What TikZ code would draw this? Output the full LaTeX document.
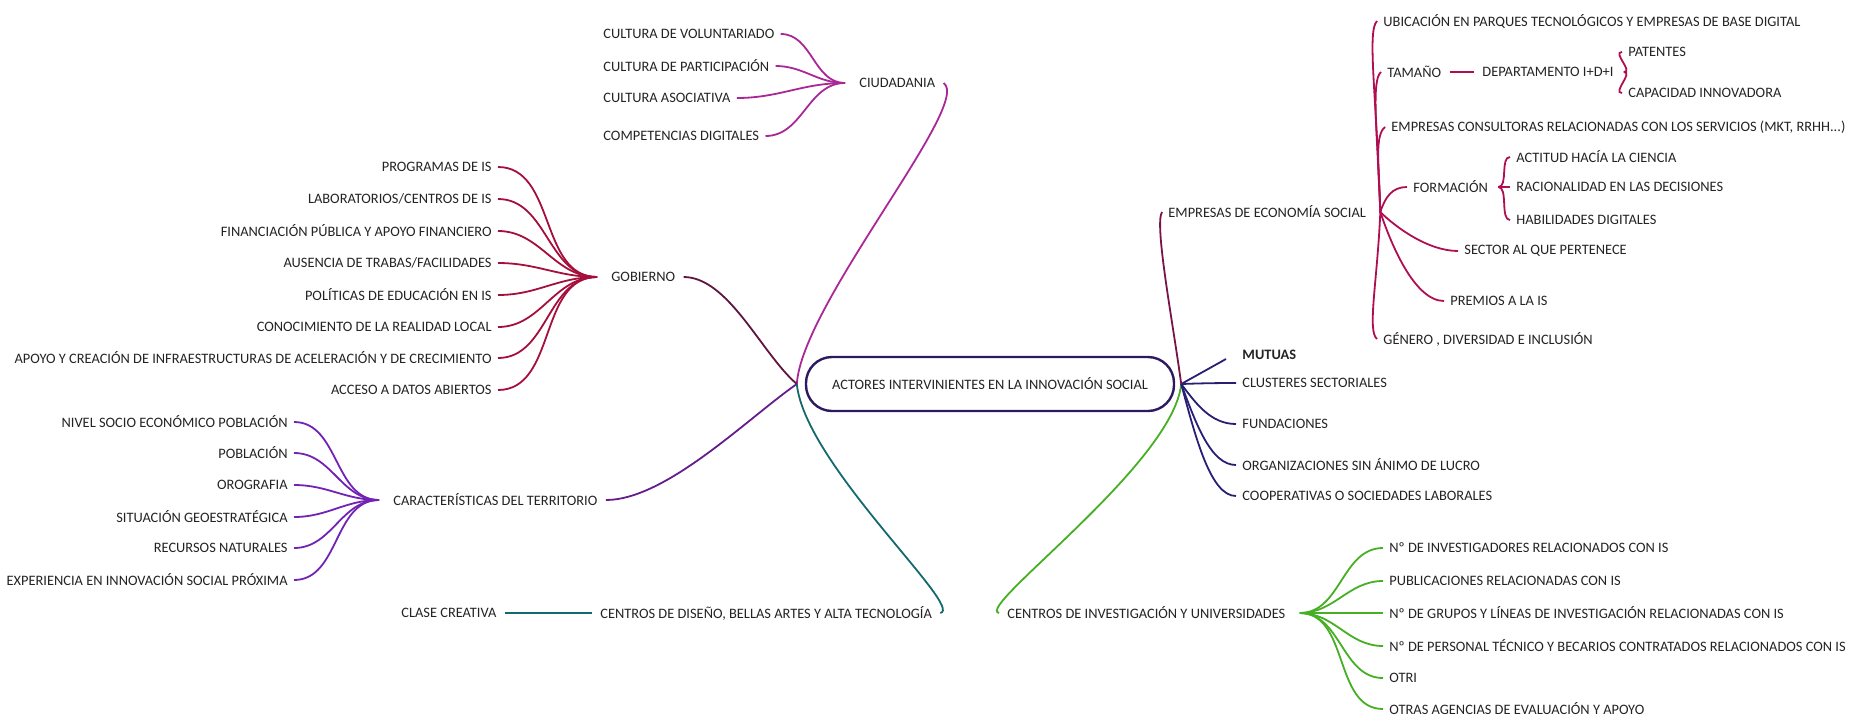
\documentclass[tikz,border=0pt]{standalone}
\usepackage{fontspec}
\setmainfont{Carlito}
\usetikzlibrary{positioning}

\definecolor{textgray}{RGB}{35,35,35}
\definecolor{boxblue}{RGB}{45,25,95}
\definecolor{ciudcol}{RGB}{170,40,150}
\definecolor{gobcol}{RGB}{165,15,60}
\definecolor{gobmain}{RGB}{95,20,65}
\definecolor{tercol}{RGB}{115,35,180}
\definecolor{termain}{RGB}{100,30,140}
\definecolor{tealcol}{RGB}{20,105,110}
\definecolor{greencol}{RGB}{70,175,35}
\definecolor{empcol}{RGB}{175,15,80}
\definecolor{empmain}{RGB}{120,20,70}
\definecolor{navycol}{RGB}{40,30,115}

\tikzset{
	item/.style = {inner sep = 1pt, text = textgray, font = \fontsize{7.2}{8}\selectfont},
	itembold/.style = {item, font = \fontsize{7.2}{8}\selectfont\bfseries},
	branch/.style = {line width = 0.9pt},
	mainbox/.style = {item, draw = boxblue, line width = 1.2pt, rounded corners = 13pt, minimum width = 184pt, minimum height = 27pt}
}

\begin{document}
\begin{tikzpicture}[x = 0.5pt, y = -0.5pt]

	\useasboundingbox (0, 0) rectangle (1867, 718);

	% Central node

	\node [mainbox] (actores) at (990, 384) {ACTORES INTERVINIENTES EN LA INNOVACIÓN SOCIAL};
	\coordinate (hubL) at ([xshift = -4pt] actores.west);
	\coordinate (hubR) at ([xshift = 3pt] actores.east);

	% Ciudadania

	\node [item, anchor = west] (ciudadania) at (857, 83) {CIUDADANIA};
	\coordinate (hubC) at ([xshift = -6pt] ciudadania.west);

	\foreach \n / \y / \t in {voluntariado/34/CULTURA DE VOLUNTARIADO, participacion/66/CULTURA DE PARTICIPACIÓN, asociativa/98/CULTURA ASOCIATIVA, competencias/136/COMPETENCIAS DIGITALES}
	{
		\node [item, anchor = west] (\n) at (601, \y) {\t};
		\draw [branch, ciudcol] ([xshift = 2pt] \n.east) to [out = 0, in = 180] (hubC);
	}

	\draw [branch, ciudcol] ([xshift = 3pt] ciudadania.east) .. controls +(30, 20) and +(5, -80) .. (hubL);

	% Gobierno

	\node [item, anchor = west] (gobierno) at (609, 277) {GOBIERNO};
	\coordinate (hubG) at ([xshift = -6pt] gobierno.west);

	\foreach \n / \y / \t in {programas/167/{PROGRAMAS DE IS}, laboratorios/199/{LABORATORIOS/CENTROS DE IS}, financiacion/231/{FINANCIACIÓN PÚBLICA Y APOYO FINANCIERO}, ausencia/263/{AUSENCIA DE TRABAS/FACILIDADES}, politicas/295/{POLÍTICAS DE EDUCACIÓN EN IS}, conocimiento/327/{CONOCIMIENTO DE LA REALIDAD LOCAL}, apoyo/358/{APOYO Y CREACIÓN DE INFRAESTRUCTURAS DE ACELERACIÓN Y DE CRECIMIENTO}, acceso/390/{ACCESO A DATOS ABIERTOS}}
	{
		\node [item, anchor = east] (\n) at (494, \y) {\t};
		\draw [branch, gobcol] ([xshift = 2pt] \n.east) to [out = 0, in = 180] (hubG);
	}

	\draw [branch, gobmain] ([xshift = 3pt] gobierno.east) .. controls +(45, 0) and +(-35, -30) .. (hubL);

	% Caracteristicas del territorio

	\node [item, anchor = west] (territorio) at (391, 500) {CARACTERÍSTICAS DEL TERRITORIO};
	\coordinate (hubT) at ([xshift = -6pt] territorio.west);

	\foreach \n / \y / \t in {nivel/422/{NIVEL SOCIO ECONÓMICO POBLACIÓN}, poblacion/453/{POBLACIÓN}, orografia/485/{OROGRAFIA}, situacion/517/{SITUACIÓN GEOESTRATÉGICA}, recursos/548/{RECURSOS NATURALES}, experiencia/580/{EXPERIENCIA EN INNOVACIÓN SOCIAL PRÓXIMA}}
	{
		\node [item, anchor = east] (\n) at (290, \y) {\t};
		\draw [branch, tercol] ([xshift = 2pt] \n.east) to [out = 0, in = 180] (hubT);
	}

	\draw [branch, termain] ([xshift = 3pt] territorio.east) .. controls +(60, 0) and +(-50, 35) .. (hubL);

	% Centros de diseno

	\node [item, anchor = west] (diseno) at (598, 613) {CENTROS DE DISEÑO, BELLAS ARTES Y ALTA TECNOLOGÍA};
	\node [item, anchor = west] (clase) at (399, 613) {CLASE CREATIVA};

	\draw [branch, tealcol] ([xshift = 3pt] clase.east) -- ([xshift = -3pt] diseno.west);
	\draw [branch, tealcol] ([xshift = 3pt] diseno.east) .. controls +(25, -5) and +(8, 80) .. (hubL);

	% Centros de investigacion

	\node [item, anchor = west] (investigacion) at (1005, 613) {CENTROS DE INVESTIGACIÓN Y UNIVERSIDADES};
	\coordinate (hubI) at ([xshift = 6pt] investigacion.east);

	\draw [branch, greencol] ([xshift = -3pt] investigacion.west) .. controls +(-25, -5) and +(-8, 80) .. (hubR);

	\foreach \n / \y / \t in {investigadores/548/{Nº DE INVESTIGADORES RELACIONADOS CON IS}, publicaciones/581/{PUBLICACIONES RELACIONADAS CON IS}, grupos/613/{Nº DE GRUPOS Y LÍNEAS DE INVESTIGACIÓN RELACIONADAS CON IS}, personal/646/{Nº DE PERSONAL TÉCNICO Y BECARIOS CONTRATADOS RELACIONADOS CON IS}, otri/678/{OTRI}, agencias/709/{OTRAS AGENCIAS DE EVALUACIÓN Y APOYO}}
	{
		\node [item, anchor = west] (\n) at (1387, \y) {\t};
		\draw [branch, greencol] (hubI) to [out = 0, in = 180] ([xshift = -2pt] \n.west);
	}

	% Mutuas, clusteres, fundaciones...

	\node [itembold, anchor = west] (mutuas) at (1240, 355) {MUTUAS};
	\draw [branch, navycol] (hubR) -- ([xshift = -7pt, yshift = -2pt] mutuas.west);

	\foreach \n / \y / \t in {clusteres/383/{CLUSTERES SECTORIALES}, fundaciones/424/{FUNDACIONES}, organizaciones/465/{ORGANIZACIONES SIN ÁNIMO DE LUCRO}, cooperativas/496/{COOPERATIVAS O SOCIEDADES LABORALES}}
	{
		\node [item, anchor = west] (\n) at (1240, \y) {\t};
		\draw [branch, navycol] (hubR) .. controls +(15, {0.5 * (\y - 384)}) and +(-25, 0) .. ([xshift = -2pt] \n.west);
	}

	% Empresas de economia social

	\node [item, anchor = west] (empresas) at (1166, 212) {EMPRESAS DE ECONOMÍA SOCIAL};
	\coordinate (hubE) at ([xshift = 6pt] empresas.east);

	\draw [branch, empmain] (hubR) .. controls +(-8, -60) and +(-8, 12) .. ([xshift = -2pt] empresas.west);

	\node [item, anchor = west] (ubicacion) at (1381, 21) {UBICACIÓN EN PARQUES TECNOLÓGICOS Y EMPRESAS DE BASE DIGITAL};
	\node [item, anchor = west] (tamano) at (1385, 72) {TAMAÑO};
	\node [item, anchor = west] (departamento) at (1480, 72) {DEPARTAMENTO I+D+I};
	\node [item, anchor = west] (patentes) at (1626, 52) {PATENTES};
	\node [item, anchor = west] (capacidad) at (1626, 93) {CAPACIDAD INNOVADORA};
	\node [item, anchor = west] (consultoras) at (1389, 127) {EMPRESAS CONSULTORAS RELACIONADAS CON LOS SERVICIOS (MKT, RRHH...)};
	\node [item, anchor = west] (formacion) at (1411, 187) {FORMACIÓN};
	\node [item, anchor = west] (actitud) at (1514, 157) {ACTITUD HACÍA LA CIENCIA};
	\node [item, anchor = west] (racionalidad) at (1514, 187) {RACIONALIDAD EN LAS DECISIONES};
	\node [item, anchor = west] (habilidades) at (1514, 220) {HABILIDADES DIGITALES};
	\node [item, anchor = west] (sector) at (1462, 251) {SECTOR AL QUE PERTENECE};
	\node [item, anchor = west] (premios) at (1448, 301) {PREMIOS A LA IS};
	\node [item, anchor = west] (genero) at (1381, 339) {GÉNERO , DIVERSIDAD E INCLUSIÓN};

	\draw [branch, empcol] (hubE) .. controls +(-4, -120) and +(-10, 10) .. ([xshift = -2pt] ubicacion.west);
	\draw [branch, empcol] (hubE) .. controls +(-3, -80) and +(-10, 8) .. ([xshift = -2pt] tamano.west);
	\draw [branch, empcol] (hubE) .. controls +(-2, -50) and +(-10, 8) .. ([xshift = -2pt] consultoras.west);
	\draw [branch, empcol] (hubE) .. controls +(5, -15) and +(-15, 0) .. ([xshift = -2pt] formacion.west);
	\draw [branch, empcol] (hubE) .. controls +(15, 15) and +(-30, 0) .. ([xshift = -2pt] sector.west);
	\draw [branch, empcol] (hubE) .. controls +(10, 30) and +(-30, 0) .. ([xshift = -2pt] premios.west);
	\draw [branch, empcol] (hubE) .. controls +(-3, 70) and +(-10, -8) .. ([xshift = -2pt] genero.west);

	\draw [branch, empcol] ([xshift = 3pt] tamano.east) -- ([xshift = -3pt] departamento.west);

	\coordinate (hubD) at ([xshift = 4pt] departamento.east);
	\coordinate (hubF) at ([xshift = 4pt] formacion.east);

	\foreach \n in {patentes, capacidad}
		\draw [branch, empcol] (hubD) .. controls +(10, 0) and +(-10, 0) .. ([xshift = -2pt] \n.west);

	\foreach \n in {actitud, racionalidad, habilidades}
		\draw [branch, empcol] (hubF) .. controls +(10, 0) and +(-10, 0) .. ([xshift = -2pt] \n.west);

\end{tikzpicture}
\end{document}
